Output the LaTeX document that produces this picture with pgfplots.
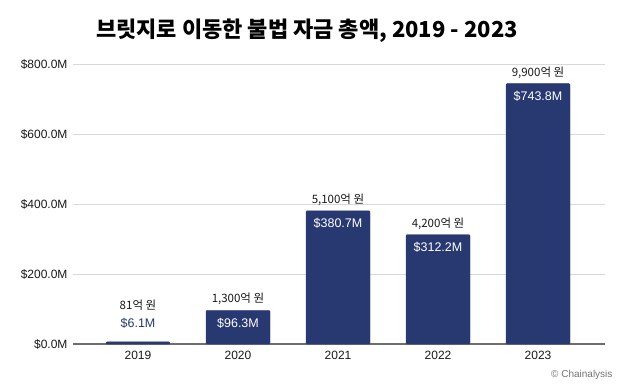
\documentclass[border=0pt]{standalone}
\usepackage{fontspec}
\usepackage{pgfplots}
\pgfplotsset{compat=1.18}
\setmainfont{Liberation Sans}
\newfontfamily\kr{Noto Sans CJK KR}
\definecolor{navy}{RGB}{40,56,112}
\definecolor{gridgray}{RGB}{217,217,217}
\definecolor{axgray}{RGB}{110,110,110}
\begin{document}
\begin{tikzpicture}
\useasboundingbox (-73bp,-41bp) rectangle (550bp,344bp);
\begin{axis}[
  at={(0,0)}, anchor=south west,
  scale only axis, width=532bp, height=280bp,
  xmin=-0.65, xmax=4.67, ymin=0, ymax=800,
  axis x line*=bottom, axis y line*=left,
  x axis line style={axgray, line width=1.4bp, -},
  y axis line style={draw=none},
  xtick={0,1,2,3,4}, xticklabels={2019,2020,2021,2022,2023},
  ytick={0,200,400,600,800},
  yticklabels={\$0.0M,\$200.0M,\$400.0M,\$600.0M,\$800.0M},
  ymajorgrids, grid style={gridgray, line width=0.8bp},
  major tick length=0pt,
  tick label style={font=\fontsize{12bp}{14bp}\selectfont, text=black!90},
  xticklabel style={yshift=-4bp},
  yticklabel style={xshift=-2bp},
  clip=false,
]
\addplot[ybar, bar width=64bp, fill=navy, draw=navy, rounded corners=1bp]
  coordinates {(0,6.1) (1,96.3) (2,380.7) (3,312.2) (4,743.8)};
% values inside bars
\addplot[only marks, mark=none, point meta=explicit symbolic, nodes near coords,
  every node near coord/.style={anchor=center, yshift=-13bp, text=white,
    font=\fontsize{12.5bp}{14bp}\selectfont}]
  coordinates {(1,96.3) [\$96.3M] (2,380.7) [\$380.7M] (3,312.2) [\$312.2M] (4,743.8) [\$743.8M]};
% value above small bar
\addplot[only marks, mark=none, point meta=explicit symbolic, nodes near coords,
  every node near coord/.style={anchor=center, yshift=19bp, text=navy,
    font=\fontsize{12.5bp}{14bp}\selectfont}]
  coordinates {(0,6.1) [\$6.1M]};
% Korean won labels
\addplot[only marks, mark=none, point meta=explicit symbolic, nodes near coords,
  every node near coord/.style={anchor=center, yshift=11bp, text=black!90,
    font=\kr\fontsize{11.5bp}{13bp}\selectfont}]
  coordinates {(1,96.3) [1,300억 원] (2,380.7) [5,100억 원] (3,312.2) [4,200억 원] (4,743.8) [9,900억 원]};
\addplot[only marks, mark=none, point meta=explicit symbolic, nodes near coords,
  every node near coord/.style={anchor=center, yshift=37bp, text=black!90,
    font=\kr\fontsize{11.5bp}{13bp}\selectfont}]
  coordinates {(0,6.1) [81억 원]};
\end{axis}
\node[font=\kr\bfseries\fontsize{22bp}{24bp}\selectfont] at (234bp,313bp) {브릿지로 이동한 불법 자금 총액, 2019 - 2023};
\node[anchor=east, font=\fontsize{10bp}{12bp}\selectfont, text=black!55] at (543bp,-31bp) {© Chainalysis};
\end{tikzpicture}
\end{document}
